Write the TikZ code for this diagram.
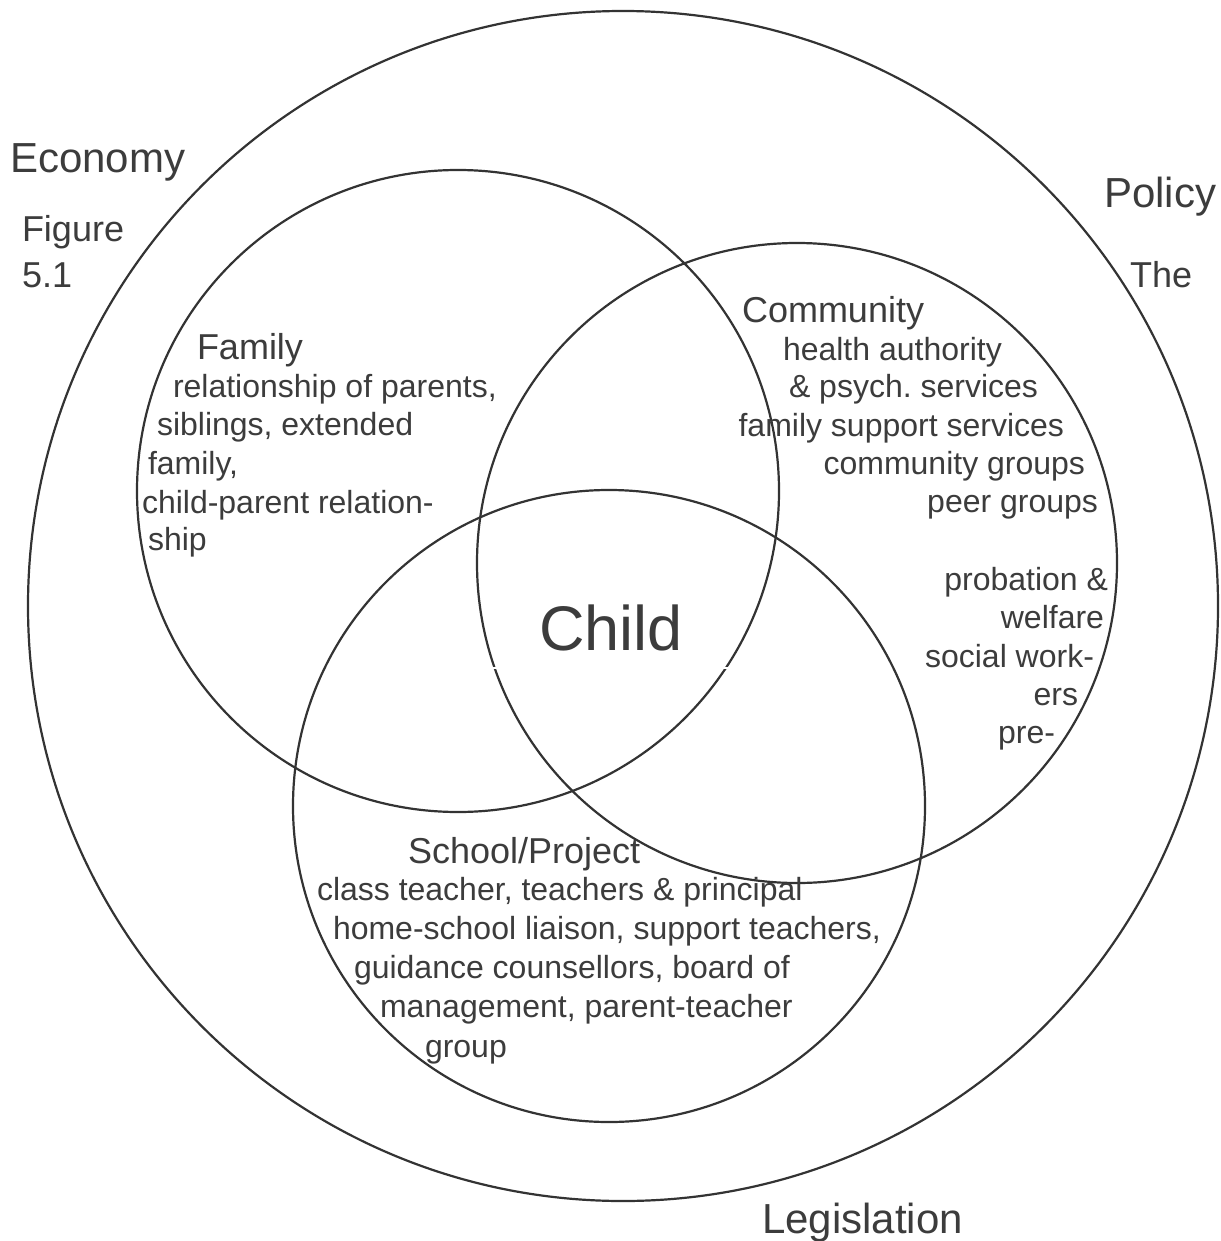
\documentclass[tikz,border=0pt]{standalone}
\usepackage{fontspec}
\setmainfont{Liberation Sans}
\frenchspacing
\definecolor{ink}{HTML}{333333}
\definecolor{txt}{HTML}{3C3C3C}
\begin{document}
\begin{tikzpicture}[x=1pt,y=-1pt,
  ring/.style={draw=ink,line width=2.2pt,circle,inner sep=0pt,outer sep=0pt},
  lbl/.style={inner sep=0pt,outer sep=0pt,text=txt,font=\fontsize{42}{50}\selectfont},
  head/.style={inner sep=0pt,outer sep=0pt,text=txt,font=\fontsize{36}{42}\selectfont},
  body/.style={inner sep=0pt,outer sep=0pt,text=txt,font=\fontsize{32}{38}\selectfont},
  lw/.style={anchor=base west},
  le/.style={anchor=base east}]
\useasboundingbox (0,0) rectangle (1220,1241);
\fill[white] (0,0) rectangle (1220,1241);
% circles
\node[ring,minimum size=1190pt] (outer) at (623,606) {};
\node[ring,minimum size=642pt] (family) at (458,491) {};
\node[ring,minimum size=640pt] (community) at (797,563) {};
\node[ring,minimum size=632pt] (school) at (609,806) {};
% small gaps
\draw[white,line width=2pt] (493,668) -- (501,668);
\draw[white,line width=2pt] (720,668) -- (728,668);
% outer labels
\node[lbl,lw] (economy) at (10,173) {Economy};
\node[lbl,lw] (policy) at (1104,208) {Policy};
\node[lbl,lw] (legis) at (762,1233) {Legislation};
\node[head,lw] (fig1) at (22,242) {Figure};
\node[head,lw] (fig2) at (22,287) {5.1};
\node[head,lw] (the) at (1130,287) {The};
% child
\node[inner sep=0pt,text=txt,font=\fontsize{63}{70}\selectfont,lw] (child) at (539,650) {Child};
% family
\node[head,lw] (famT) at (197,359) {Family};
\node[body,lw] (f1) at (173,397) {relationship of parents,};
\node[body,lw] (f2) at (157,435) {siblings, extended};
\node[body,lw] (f3) at (148,474) {family,};
\node[body,lw] (f4) at (142,513) {child-parent relation-};
\node[body,lw] (f5) at (148,550) {ship};
% community
\node[head,lw] (comT) at (742,322) {Community};
\node[body,lw] (c1) at (783,360) {health authority};
\node[body,lw] (c2) at (789,397) {\& psych. services};
\node[body,le] (c3) at (1064,436) {family support services};
\node[body,le] (c4) at (1085,474) {community groups};
\node[body,le] (c5) at (1098,512) {peer groups};
\node[body,le] (c6) at (1108,590) {probation \&};
\node[body,le] (c7) at (1104,628) {welfare};
\node[body,le] (c8) at (1094,667) {social work-};
\node[body,le] (c9) at (1078,705) {ers};
\node[body,le] (c10) at (1055,743) {pre-};
% school
\node[head,lw] (schT) at (408,863) {School/Project};
\node[body,lw] (s1) at (317,900) {class teacher, teachers \& principal};
\node[body,lw] (s2) at (333,939) {home-school liaison, support teachers,};
\node[body,lw] (s3) at (354,978) {guidance counsellors, board of};
\node[body,lw] (s4) at (380,1017) {management, parent-teacher};
\node[body,lw] (s5) at (425,1057) {group};
\end{tikzpicture}
\end{document}
